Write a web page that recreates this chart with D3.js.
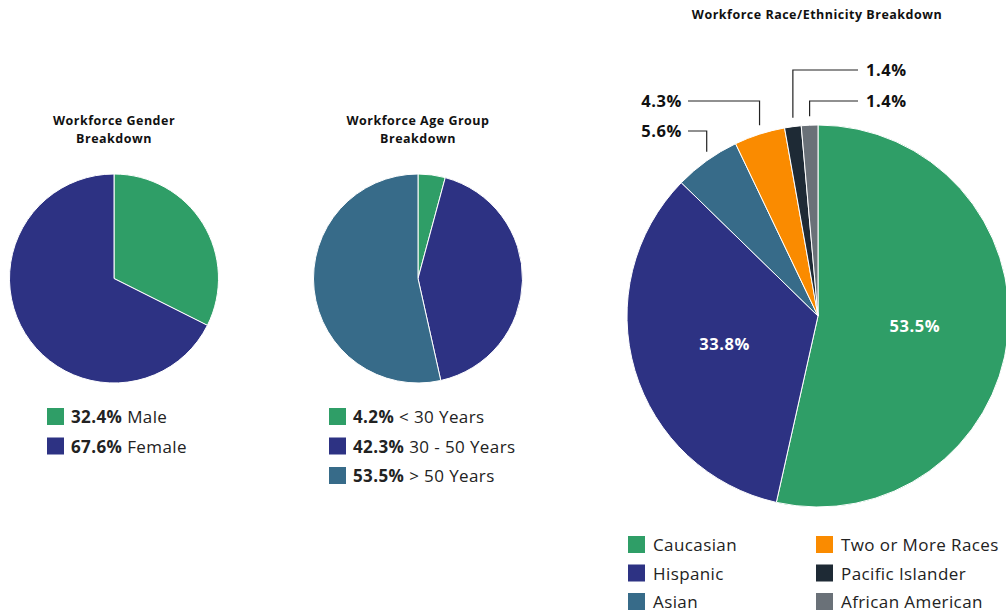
<!DOCTYPE html>
<html>
<head>
<meta charset="utf-8">
<script src="https://cdn.jsdelivr.net/npm/d3@7"></script>
<style>
  body { margin: 0; background: #fff; }
  svg { display: block; font-family: "Open Sans", sans-serif; }
</style>
</head>
<body>
<div id="chart"></div>
<script>
// Data
const genderLabels = ['Male', 'Female'];
const genderValues = [32.4, 67.6];

const ageLabels = ['< 30 Years', '30 - 50 Years', '> 50 Years'];
const ageValues = [4.2, 42.3, 53.5];

const raceLabels = ['Caucasian', 'Hispanic', 'Asian', 'Two or More Races', 'Pacific Islander', 'African American'];
const raceValues = [53.5, 33.8, 5.6, 4.3, 1.4, 1.4];

// Colours
const GREEN = '#2f9e67', NAVY = '#2d3283', TEAL = '#376b89';
const genderColors = [GREEN, NAVY];
const ageColors = [GREEN, NAVY, TEAL];
const raceColors = [GREEN, NAVY, TEAL, '#fa8b00', '#1e2a35', '#6a7178'];

const width = 1006, height = 613;

const svg = d3.select('#chart').append('svg')
  .attr('width', width)
  .attr('height', height);

const pie = d3.pie().sort(null).value(d => d);

function drawPie(cx, cy, r, values, colors) {
  const g = svg.append('g').attr('transform', `translate(${cx},${cy})`);
  const arc = d3.arc().innerRadius(0).outerRadius(r);
  const arcs = pie(values);
  g.selectAll('path')
    .data(arcs)
    .enter()
    .append('path')
    .attr('d', arc)
    .attr('fill', (d, i) => colors[i])
    .attr('stroke', '#fff')
    .attr('stroke-width', 1);
  return { g, arcs };
}

function drawTitle(cx, y, lines) {
  const t = svg.append('text')
    .attr('x', cx)
    .attr('y', y)
    .attr('text-anchor', 'middle')
    .attr('font-size', 12.5)
    .attr('font-weight', 700)
    .attr('letter-spacing', 0.5)
    .attr('fill', '#111');
  lines.forEach((line, i) => {
    t.append('tspan').attr('x', cx).attr('dy', i ? 18 : 0).text(line);
  });
}

// Legend with bold value + label
function drawValueLegend(x, y, labels, values, colors) {
  const rows = svg.append('g').attr('transform', `translate(${x},${y})`)
    .selectAll('g')
    .data(labels)
    .enter()
    .append('g')
    .attr('transform', (d, i) => `translate(0,${i * 29.5})`);
  rows.append('rect')
    .attr('width', 17).attr('height', 17)
    .attr('fill', (d, i) => colors[i]);
  const text = rows.append('text')
    .attr('x', 24).attr('y', 15)
    .attr('font-size', 17)
    .attr('letter-spacing', 0.4)
    .attr('fill', '#222');
  text.append('tspan').attr('font-weight', 700).text((d, i) => values[i].toFixed(1) + '%');
  text.append('tspan').text(d => ' ' + d);
}

// Gender
drawTitle(114, 125, ['Workforce Gender', 'Breakdown']);
drawPie(114, 278.5, 104.5, genderValues, genderColors);
drawValueLegend(47, 408, genderLabels, genderValues, genderColors);

// Age
drawTitle(418, 125, ['Workforce Age Group', 'Breakdown']);
drawPie(418, 278.5, 104.5, ageValues, ageColors);
drawValueLegend(329, 408, ageLabels, ageValues, ageColors);

// Race / ethnicity
drawTitle(817, 19, ['Workforce Race/Ethnicity Breakdown']);
const raceR = 191;
const race = drawPie(818, 316, raceR, raceValues, raceColors);

// inside labels for the two big slices
const labelArc = d3.arc().innerRadius(0).outerRadius(raceR * 1.02);
race.g.selectAll('text.inner')
  .data(race.arcs.filter(d => d.value > 10))
  .enter()
  .append('text')
  .attr('class', 'inner')
  .attr('transform', d => `translate(${labelArc.centroid(d)})`)
  .attr('text-anchor', 'middle')
  .attr('dy', '0.35em')
  .attr('font-size', 16.5)
  .attr('font-weight', 700)
  .attr('letter-spacing', 0.6)
  .attr('fill', '#fff')
  .text(d => d.value.toFixed(1) + '%');

// callouts for the small slices: side and label row
const callouts = {
  2: { side: 'left', y: 131 - 316 },
  3: { side: 'left', y: 101 - 316 },
  4: { side: 'right', y: 70 - 316 },
  5: { side: 'right', y: 101 - 316 }
};
const leftEnd = 688 - 818, rightEnd = 858 - 818;

race.arcs.forEach((d, i) => {
  const c = callouts[i];
  if (!c) return;
  const a = (d.startAngle + d.endAngle) / 2;
  const x = raceR * Math.sin(a);
  const yArc = -raceR * Math.cos(a) - 9;
  const xEnd = c.side === 'left' ? leftEnd : rightEnd;
  race.g.append('path')
    .attr('d', `M${x},${yArc}V${c.y}H${xEnd}`)
    .attr('fill', 'none')
    .attr('stroke', '#222')
    .attr('stroke-width', 1.2);
  race.g.append('text')
    .attr('x', c.side === 'left' ? xEnd - 6 : xEnd + 8)
    .attr('y', c.y)
    .attr('dy', '0.35em')
    .attr('text-anchor', c.side === 'left' ? 'end' : 'start')
    .attr('font-size', 16.5)
    .attr('font-weight', 700)
    .attr('letter-spacing', 0.6)
    .attr('fill', '#111')
    .text(d.value.toFixed(1) + '%');
});

// race legend: two columns of three
const raceLegend = svg.append('g').attr('transform', 'translate(628,536)')
  .selectAll('g')
  .data(raceLabels)
  .enter()
  .append('g')
  .attr('transform', (d, i) => `translate(${Math.floor(i / 3) * 188},${(i % 3) * 28.5})`);
raceLegend.append('rect')
  .attr('width', 17).attr('height', 17)
  .attr('fill', (d, i) => raceColors[i]);
raceLegend.append('text')
  .attr('x', 25).attr('y', 15)
  .attr('font-size', 17)
  .attr('letter-spacing', 0.4)
  .attr('fill', '#222')
  .text(d => d);
</script>
</body>
</html>
